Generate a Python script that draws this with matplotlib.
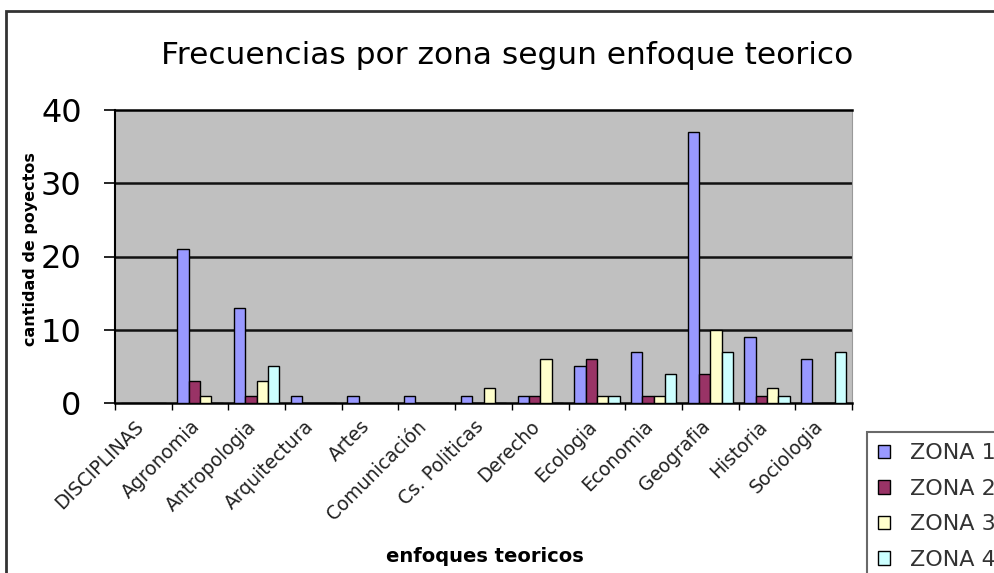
import matplotlib.pyplot as plt
import numpy as np
from matplotlib.patches import Rectangle
from matplotlib.transforms import ScaledTranslation

# datos
disciplinas = ['DISCIPLINAS', 'Agronomia', 'Antropologia', 'Arquitectura', 'Artes',
               'Comunicación', 'Cs. Politicas', 'Derecho', 'Ecologia', 'Economia',
               'Geografia', 'Historia', 'Sociologia']
zona1 = [0, 21, 13, 1, 1, 1, 1, 1, 5, 7, 37, 9, 6]
zona2 = [0, 3, 1, 0, 0, 0, 0, 1, 6, 1, 4, 1, 0]
zona3 = [0, 1, 3, 0, 0, 0, 2, 6, 1, 1, 10, 2, 0]
zona4 = [0, 0, 5, 0, 0, 0, 0, 0, 1, 4, 7, 1, 7]
zonas = ['ZONA 1', 'ZONA 2', 'ZONA 3', 'ZONA 4']
colores = ['#9999FF', '#993366', '#FFFFCC', '#CCFFFF']

fig = plt.figure(figsize=(9.95, 5.73), dpi=100)
ax = fig.add_axes([115 / 995, 1 - 403 / 573, 737 / 995, 293 / 573])

ind = np.arange(len(disciplinas))
width = 0.2
series = [zona1, zona2, zona3, zona4]
for i, (vals, nombre, c) in enumerate(zip(series, zonas, colores)):
    ax.bar(ind + (i - 1.5) * width, vals, width, color=c, edgecolor='black',
           linewidth=1, label=nombre, zorder=3)

ax.set_facecolor('#c0c0c0')
ax.set_xlim(-0.5, len(disciplinas) - 0.5)
ax.set_ylim(0, 40)
ax.set_yticks([0, 10, 20, 30, 40])
ax.tick_params(axis='y', labelsize=23, length=8, width=1.2, direction='out',
               pad=16)
for y in [10, 20, 30]:
    ax.axhline(y, color='#111111', linewidth=1.8, zorder=1)

# ticks de categoria en los bordes, etiquetas al centro
ax.set_xticks(np.arange(-0.5, len(disciplinas), 1))
ax.set_xticklabels([])
ax.tick_params(axis='x', which='major', length=5, width=1)
ax.set_xticks(ind, minor=True)
ax.set_xticklabels(disciplinas, minor=True, rotation=45, ha='right',
                   rotation_mode='anchor', fontsize=13.5, color='#222222')
ax.tick_params(axis='x', which='minor', length=0, pad=10)
desplaza = ScaledTranslation(-7 / 72, 0, fig.dpi_scale_trans)
for lab in ax.get_xticklabels(minor=True):
    lab.set_transform(lab.get_transform() + desplaza)

ax.spines['left'].set_linewidth(1.5)
ax.spines['bottom'].set_linewidth(1.8)
ax.spines['top'].set_linewidth(1.8)
ax.spines['right'].set_color('#999999')

fig.text(507 / 995, 1 - 55 / 573, 'Frecuencias por zona segun enfoque teorico',
         ha='center', va='center', fontsize=22.5)
fig.text(31 / 995, 1 - 249 / 573, 'cantidad de poyectos', rotation=90,
         ha='center', va='center', fontsize=11.5, fontweight='bold')
fig.text(485 / 995, 1 - 557 / 573, 'enfoques teoricos', ha='center', va='center',
         fontsize=14, fontweight='bold')

leg = fig.legend(loc='upper left', bbox_to_anchor=(867 / 995, 1 - 432 / 573),
                 fontsize=16, frameon=True, fancybox=False, borderaxespad=0,
                 handlelength=0.55, handleheight=0.55, handletextpad=0.9,
                 labelspacing=0.7, borderpad=0.5, labelcolor='#333333')
leg.get_frame().set_edgecolor('#444444')
leg.get_frame().set_linewidth(1.5)

# marco exterior del grafico
fig.patches.append(Rectangle((6 / 995, -0.05), 1.1, 1 - 11 / 573 + 0.05,
                             transform=fig.transFigure, fill=False,
                             edgecolor='#333333', linewidth=2))

fig.savefig('out.png', dpi=100)
